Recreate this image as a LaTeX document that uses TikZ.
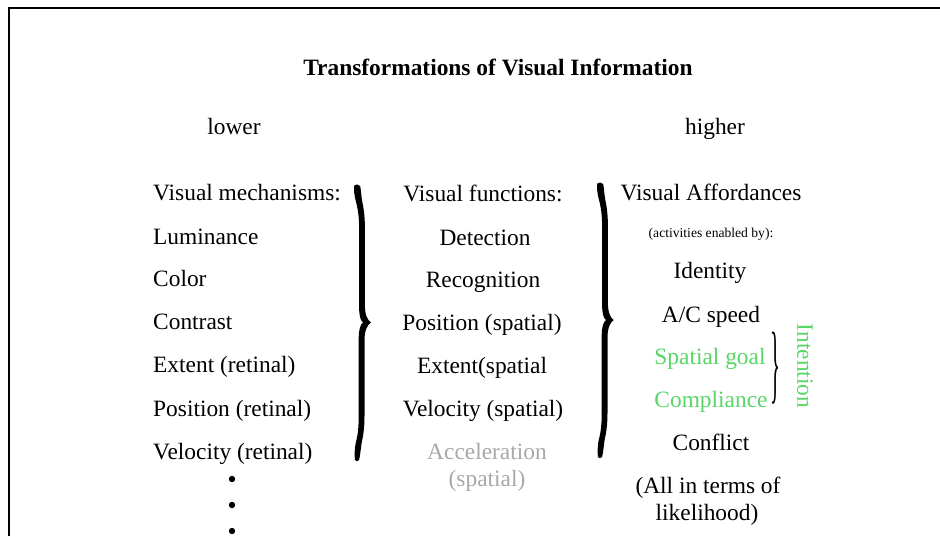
\documentclass[tikz,border=0pt]{standalone}
\usepackage{fontspec}
\setmainfont{Liberation Serif}
\usepackage{graphicx}
\definecolor{intentgreen}{RGB}{88,214,104}
\definecolor{fadedgray}{RGB}{168,168,168}
% heavy curly brace: origin on the stroke's axis at the point level,
% #1 = half height, #2 = how far the point sticks out to the right
\tikzset{
  pics/boldbrace/.style args={#1/#2}{code={
    \fill (-7.2,-#1+1.5) .. controls (-6,-#1) and (-3,-#1) .. (-1.3,-#1+2)
      .. controls (-0.5,-#1+6) and (-0.5,-#1+10) .. (0.8,-#1+18)
      .. controls (2.6,-#1+26) and (3.4,-#1+34) .. (3.4,-#1+45)
      -- (3.4,-18) .. controls (3.4,-8) and (5.4,-3) .. (#2,0)
      .. controls (5.4,3) and (3,8) .. (3,18)
      -- (3,#1-45) .. controls (3,#1-34) and (1.9,#1-26) .. (0.1,#1-18)
      .. controls (-1,#1-10) and (-1.3,#1-6) .. (-2.4,#1-1)
      .. controls (-3.6,#1+0.6) and (-5.8,#1+0.6) .. (-6.6,#1-1)
      .. controls (-7,#1-6) and (-7,#1-12) .. (-5.8,#1-18)
      .. controls (-3.6,#1-26) and (-2.8,#1-34) .. (-2.8,#1-45)
      -- (-2.8,16) .. controls (-2.8,7) and (-1.2,2) .. (1.5,0)
      .. controls (-1.2,-2) and (-2.4,-7) .. (-2.4,-16)
      -- (-2.4,-#1+45) .. controls (-2.4,-#1+34) and (-3.3,-#1+26) .. (-5.5,-#1+18)
      .. controls (-7.3,-#1+11) and (-7.8,-#1+6) .. (-7.2,-#1+1.5) -- cycle;
  }}
}
\begin{document}
\begin{tikzpicture}[x=1pt,y=-1pt,
  txt/.style={inner sep=0pt, font=\fontsize{23.4pt}{28pt}\selectfont},
  lefttxt/.style={txt, anchor=base west},
  midtxt/.style={txt, anchor=base},
  small/.style={inner sep=0pt, anchor=base, font=\fontsize{13.6pt}{16pt}\selectfont},
  intent/.style={text=intentgreen},
  faded/.style={text=fadedgray},
  thinbrace/.style={inner sep=0pt, anchor=center},
  dot/.style={circle, fill=black, inner sep=0pt, minimum size=6.4pt}]
\useasboundingbox (0,0) rectangle (940,536);

% frame
\coordinate (frameBL) at (9,536);
\coordinate (frameTL) at (9,8);
\coordinate (frameTR) at (940,8);
\draw[line width=2.3pt] (frameBL) -- (frameTL) -- (frameTR);

% heading
\node[midtxt, font=\fontsize{23.4pt}{28pt}\selectfont\bfseries] (title) at (498,75) {Transformations of Visual Information};
\node[midtxt] (lower) at (234,134) {lower};
\node[midtxt] (higher) at (715,134) {higher};

% mechanisms column
\node[lefttxt] (m0) at (153,200) {Visual mechanisms:};
\node[lefttxt] (m1) at (153,244) {Luminance};
\node[lefttxt] (m2) at (153,286) {Color};
\node[lefttxt] (m3) at (153,329) {Contrast};
\node[lefttxt] (m4) at (153,372) {Extent (retinal)};
\node[lefttxt] (m5) at (153,416) {Position (retinal)};
\node[lefttxt] (m6) at (153,459) {Velocity (retinal)};
\node[dot] (d1) at (232,479) {};
\node[dot] (d2) at (232,505) {};
\node[dot] (d3) at (232,531) {};

% brace between mechanisms and functions
\pic (braceA) at (361.5,322.5) {boldbrace={138.5/9.5}};

% functions column
\node[midtxt] (f0) at (483,201) {Visual functions:};
\node[midtxt] (f1) at (485,245) {Detection};
\node[midtxt] (f2) at (483,287) {Recognition};
\node[midtxt] (f3) at (482,330) {Position (spatial)};
\node[midtxt] (f4) at (482,373) {Extent(spatial};
\node[midtxt] (f5) at (483,416) {Velocity (spatial)};
\node[midtxt, faded] (f6) at (487,459) {Acceleration};
\node[midtxt, faded] (f7) at (487,486) {(spatial)};

% brace between functions and affordances
\pic (braceB) at (604.5,320) {boldbrace={138/9}};

% affordances column
\node[midtxt] (a0) at (711,200) {Visual Affordances};
\node[small] (a1) at (711,237) {(activities enabled by):};
\node[midtxt] (a2) at (710,278) {Identity};
\node[midtxt] (a3) at (711,322) {A/C speed};
\node[midtxt, intent] (a4) at (710,364) {Spatial goal};
\node[midtxt, intent] (a5) at (711,407) {Compliance};
\node[midtxt] (a6) at (711,450) {Conflict};
\node[midtxt] (a7) at (708,493) {(All in terms of};
\node[midtxt] (a8) at (707,520) {likelihood)};

% intention group
\node[thinbrace] (braceC) at (775.5,368.5) {\resizebox*{10pt}{72pt}{\}}};
\node[txt, intent, rotate=-90] (intention) at (805,366) {Intention};
\end{tikzpicture}
\end{document}
